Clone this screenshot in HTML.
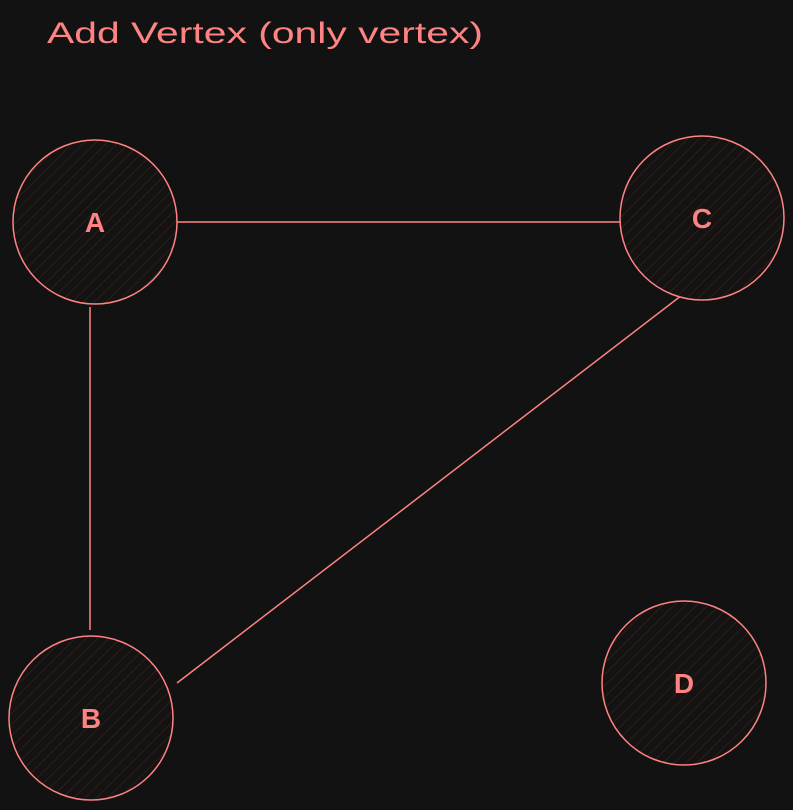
<!DOCTYPE html>
<html>
<head>
<meta charset="utf-8">
<style>
  html,body{margin:0;padding:0;background:#121212;}
  body{width:793px;height:810px;overflow:hidden;}
  svg{display:block;}
  text{font-family:"Liberation Sans",sans-serif;fill:#ff8383;}
</style>
</head>
<body>
<svg width="793" height="810" viewBox="0 0 793 810">
  <defs>
    <pattern id="hatch" width="8" height="8" patternUnits="userSpaceOnUse" patternTransform="rotate(45)">
      <rect width="8" height="8" fill="#151212"/>
      <line x1="0" y1="0" x2="0" y2="8" stroke="#2a1e1e" stroke-width="2"/>
    </pattern>
  </defs>
  <text x="47" y="43" font-size="30" textLength="436" lengthAdjust="spacingAndGlyphs">Add Vertex (only vertex)</text>
  <g id="edges"></g>
  <g id="nodes"></g>
</svg>
<script>
const nodeNames = ['A','C','B','D'];
const nodeX = [95, 702, 91, 684];
const nodeY = [222, 218, 718, 683];
const edgeNames = ['a-c','a-b','c-b'];
const edgeX1 = [175, 90, 686];
const edgeY1 = [222, 307, 292];
const edgeX2 = [623, 90, 177];
const edgeY2 = [222, 630, 683];
const R = 82;
const ns = 'http://www.w3.org/2000/svg';
const eg = document.getElementById('edges');
const ng = document.getElementById('nodes');
edgeNames.forEach((n,k)=>{
  const l=document.createElementNS(ns,'line');
  l.setAttribute('x1',edgeX1[k]);l.setAttribute('y1',edgeY1[k]);
  l.setAttribute('x2',edgeX2[k]);l.setAttribute('y2',edgeY2[k]);
  l.setAttribute('stroke','#ff8383');l.setAttribute('stroke-width','1.5');
  
  
  eg.appendChild(l);
});
nodeNames.forEach((n,i)=>{
  const g=document.createElementNS(ns,'g');
  
  
  const c=document.createElementNS(ns,'circle');
  c.setAttribute('cx',nodeX[i]);c.setAttribute('cy',nodeY[i]);c.setAttribute('r',R);
  c.setAttribute('fill','url(#hatch)');c.setAttribute('stroke','#ff8383');c.setAttribute('stroke-width','1.5');
  
  
  const t=document.createElementNS(ns,'text');
  t.setAttribute('x',nodeX[i]);t.setAttribute('y',nodeY[i]+10);
  t.setAttribute('text-anchor','middle');t.setAttribute('font-size','28');t.setAttribute('font-weight','bold');
  t.textContent=n;
  
  
  g.appendChild(c);g.appendChild(t);ng.appendChild(g);
});
</script>
</body>
</html>
